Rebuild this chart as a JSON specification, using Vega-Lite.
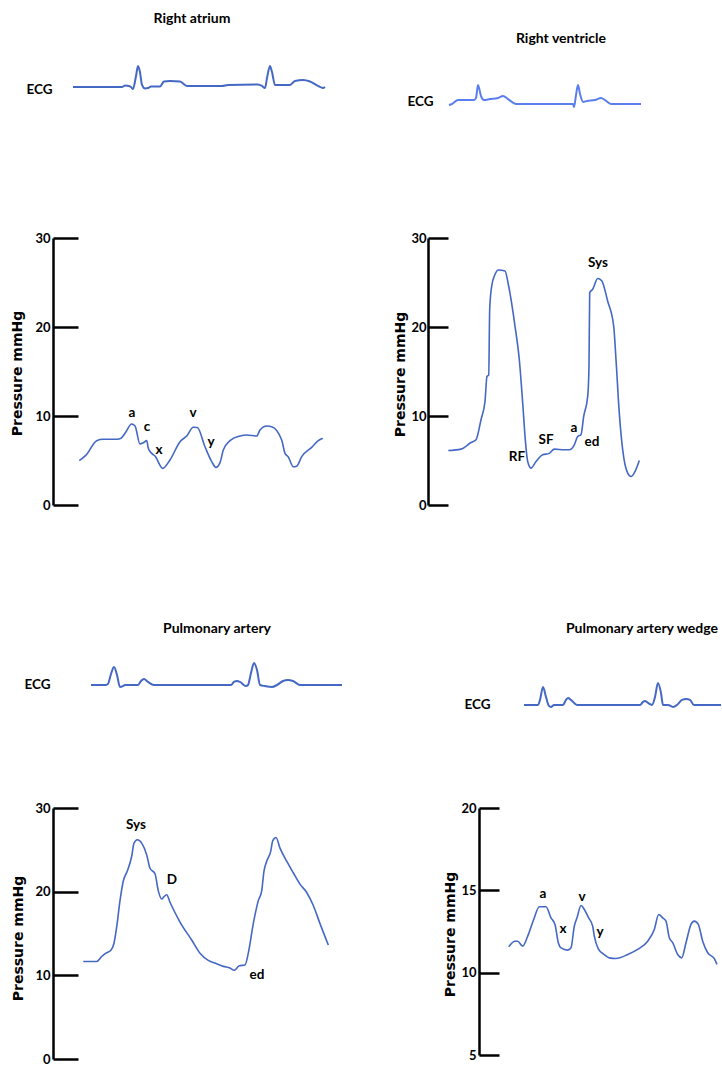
{
"$schema":"https://vega.github.io/schema/vega-lite/v6.json",
"background":"white",
"padding":{"left":10,"top":12,"right":0,"bottom":0},
"config":{"view":{"stroke":null},"font":"Lato","axis":{"grid":false},
 "title":{"font":"Lato","fontSize":14,"fontWeight":"bold","color":"black","anchor":"middle","frame":"group","baseline":"bottom"},
 "line":{"color":"#4468c4"},
 "text":{"font":"Lato","fontWeight":"bold","fontSize":13.5,"align":"center","baseline":"middle","color":"black"}},
"datasets":{
"ra_ecg":[{"t":0.20,"v":0},{"t":0.69,"v":0},{"t":0.72,"v":0.07},{"t":0.76,"v":0.05},{"t":0.78,"v":0},{"t":0.80,"v":-0.1},{"t":0.83,"v":0.52},{"t":0.85,"v":1.0},{"t":0.87,"v":0.71},{"t":0.89,"v":0.1},{"t":0.92,"v":-0.07},{"t":0.95,"v":-0.05},{"t":0.98,"v":0.02},{"t":1.07,"v":0.02},{"t":1.11,"v":0.26},{"t":1.17,"v":0.29},{"t":1.27,"v":0.26},{"t":1.34,"v":0.05},{"t":1.69,"v":0.05},{"t":1.75,"v":0.1},{"t":2.05,"v":0.12},{"t":2.09,"v":0.05},{"t":2.12,"v":-0.05},{"t":2.14,"v":0.43},{"t":2.17,"v":1.0},{"t":2.19,"v":0.71},{"t":2.22,"v":0.1},{"t":2.37,"v":0.1},{"t":2.42,"v":0.29},{"t":2.50,"v":0.33},{"t":2.57,"v":0.26},{"t":2.65,"v":0.05},{"t":2.70,"v":-0.05},{"t":2.72,"v":0}],
"ra_p":[{"t":0.263,"v":4.98},{"t":0.33,"v":5.6},{"t":0.437,"v":7.23},{"t":0.50,"v":7.38},{"t":0.64,"v":7.38},{"t":0.68,"v":7.5},{"t":0.72,"v":8.05},{"t":0.787,"v":9.1},{"t":0.82,"v":8.88},{"t":0.87,"v":6.86},{"t":0.903,"v":7.0},{"t":0.937,"v":7.23},{"t":0.953,"v":6.37},{"t":0.987,"v":5.8},{"t":1.02,"v":5.5},{"t":1.097,"v":4.12},{"t":1.17,"v":5.06},{"t":1.27,"v":7.12},{"t":1.337,"v":7.75},{"t":1.403,"v":8.73},{"t":1.443,"v":8.7},{"t":1.52,"v":6.55},{"t":1.587,"v":4.87},{"t":1.63,"v":4.23},{"t":1.67,"v":4.76},{"t":1.703,"v":6.18},{"t":1.77,"v":7.23},{"t":1.87,"v":7.75},{"t":1.937,"v":7.87},{"t":2.037,"v":7.75},{"t":2.07,"v":8.43},{"t":2.137,"v":8.88},{"t":2.187,"v":8.8},{"t":2.287,"v":7.3},{"t":2.32,"v":5.8},{"t":2.353,"v":5.4},{"t":2.403,"v":4.3},{"t":2.437,"v":4.36},{"t":2.487,"v":5.43},{"t":2.587,"v":6.48},{"t":2.653,"v":7.23},{"t":2.697,"v":7.5}],
"ra_lab":[{"t":0.79,"v":10.34,"label":"a"},{"t":0.94,"v":8.76,"label":"c"},{"t":1.06,"v":6.18,"label":"x"},{"t":1.40,"v":10.34,"label":"v"},{"t":1.58,"v":7.08,"label":"y"}],
"rv_ecg":[{"t":0.21,"v":-0.05},{"t":0.24,"v":0},{"t":0.30,"v":0.21},{"t":0.46,"v":0.21},{"t":0.48,"v":0.32},{"t":0.50,"v":1.0},{"t":0.53,"v":0.42},{"t":0.56,"v":0.21},{"t":0.62,"v":0.26},{"t":0.70,"v":0.32},{"t":0.75,"v":0.42},{"t":0.80,"v":0.26},{"t":0.88,"v":0},{"t":1.45,"v":0},{"t":1.46,"v":-0.16},{"t":1.48,"v":0.47},{"t":1.50,"v":1.0},{"t":1.52,"v":0.53},{"t":1.55,"v":0.11},{"t":1.59,"v":0.16},{"t":1.67,"v":0.21},{"t":1.73,"v":0.32},{"t":1.77,"v":0.21},{"t":1.83,"v":0},{"t":2.13,"v":0}],
"rv_p":[{"t":0.203,"v":6.12},{"t":0.33,"v":6.28},{"t":0.43,"v":7.02},{"t":0.48,"v":7.33},{"t":0.53,"v":9.58},{"t":0.57,"v":11.65},{"t":0.59,"v":14.46},{"t":0.607,"v":14.6},{"t":0.617,"v":21.98},{"t":0.637,"v":24.6},{"t":0.67,"v":25.9},{"t":0.703,"v":26.4},{"t":0.77,"v":26.3},{"t":0.803,"v":24.8},{"t":0.87,"v":20.1},{"t":0.913,"v":16.35},{"t":0.947,"v":11.46},{"t":0.973,"v":7.33},{"t":0.997,"v":4.88},{"t":1.03,"v":4.14},{"t":1.08,"v":4.88},{"t":1.147,"v":5.64},{"t":1.213,"v":5.8},{"t":1.263,"v":6.28},{"t":1.363,"v":6.2},{"t":1.413,"v":6.2},{"t":1.463,"v":6.76},{"t":1.497,"v":7.7},{"t":1.53,"v":7.9},{"t":1.557,"v":9.96},{"t":1.597,"v":12.2},{"t":1.61,"v":15.6},{"t":1.617,"v":23.87},{"t":1.647,"v":24.24},{"t":1.697,"v":25.45},{"t":1.737,"v":25.2},{"t":1.797,"v":22.9},{"t":1.857,"v":20.1},{"t":1.88,"v":16.35},{"t":1.913,"v":10.3},{"t":1.947,"v":6.2},{"t":1.997,"v":3.57},{"t":2.03,"v":3.2},{"t":2.07,"v":3.76},{"t":2.113,"v":5.0}],
"rv_lab":[{"t":0.89,"v":5.39,"label":"RF"},{"t":1.18,"v":7.30,"label":"SF"},{"t":1.46,"v":8.65,"label":"a"},{"t":1.64,"v":7.08,"label":"ed"},{"t":1.70,"v":27.19,"label":"Sys"}],
"pa_ecg":[{"t":0.38,"v":0},{"t":0.53,"v":0},{"t":0.55,"v":0.06},{"t":0.58,"v":0.61},{"t":0.61,"v":1.0},{"t":0.64,"v":0.56},{"t":0.67,"v":-0.11},{"t":0.70,"v":-0.06},{"t":0.72,"v":0},{"t":0.85,"v":0},{"t":0.88,"v":0.22},{"t":0.91,"v":0.33},{"t":0.95,"v":0.17},{"t":1.01,"v":0},{"t":1.78,"v":0},{"t":1.81,"v":0.17},{"t":1.84,"v":0.22},{"t":1.87,"v":0.17},{"t":1.93,"v":-0.06},{"t":1.95,"v":0},{"t":1.98,"v":0.67},{"t":2.01,"v":1.22},{"t":2.04,"v":0.83},{"t":2.07,"v":0},{"t":2.12,"v":-0.06},{"t":2.19,"v":-0.11},{"t":2.24,"v":0},{"t":2.30,"v":0.22},{"t":2.35,"v":0.28},{"t":2.40,"v":0.22},{"t":2.47,"v":0},{"t":2.89,"v":0}],
"pa_p":[{"t":0.303,"v":11.66},{"t":0.437,"v":11.66},{"t":0.487,"v":12.25},{"t":0.53,"v":12.65},{"t":0.577,"v":12.96},{"t":0.61,"v":13.83},{"t":0.637,"v":15.78},{"t":0.67,"v":18.93},{"t":0.703,"v":21.28},{"t":0.743,"v":22.46},{"t":0.787,"v":24.23},{"t":0.81,"v":25.8},{"t":0.843,"v":26.2},{"t":0.887,"v":25.8},{"t":0.937,"v":24.4},{"t":0.97,"v":22.8},{"t":1.02,"v":22.14},{"t":1.053,"v":20.1},{"t":1.087,"v":19.13},{"t":1.11,"v":19.4},{"t":1.137,"v":19.64},{"t":1.17,"v":18.73},{"t":1.27,"v":16.37},{"t":1.387,"v":14.22},{"t":1.47,"v":12.65},{"t":1.553,"v":11.78},{"t":1.637,"v":11.39},{"t":1.703,"v":11.07},{"t":1.77,"v":10.88},{"t":1.813,"v":10.6},{"t":1.863,"v":11.15},{"t":1.92,"v":11.24},{"t":1.953,"v":12.65},{"t":2.003,"v":16.18},{"t":2.053,"v":18.93},{"t":2.087,"v":20.1},{"t":2.11,"v":22.46},{"t":2.137,"v":23.64},{"t":2.177,"v":24.82},{"t":2.197,"v":26.08},{"t":2.23,"v":26.47},{"t":2.27,"v":25.2},{"t":2.337,"v":23.64},{"t":2.403,"v":22.26},{"t":2.47,"v":20.9},{"t":2.537,"v":19.9},{"t":2.603,"v":18.34},{"t":2.67,"v":16.18},{"t":2.753,"v":13.63}],
"pa_lab":[{"t":0.83,"v":28.0,"label":"Sys"},{"t":1.19,"v":21.4,"label":"D"},{"t":2.04,"v":10.0,"label":"ed"}],
"paw_ecg":[{"t":0.45,"v":0},{"t":0.59,"v":0},{"t":0.61,"v":0.28},{"t":0.64,"v":1.0},{"t":0.67,"v":0.44},{"t":0.70,"v":-0.06},{"t":0.72,"v":-0.11},{"t":0.75,"v":0},{"t":0.84,"v":0},{"t":0.87,"v":0.28},{"t":0.89,"v":0.39},{"t":0.92,"v":0.28},{"t":0.98,"v":0},{"t":1.61,"v":0},{"t":1.64,"v":0.17},{"t":1.66,"v":0.22},{"t":1.69,"v":0.11},{"t":1.73,"v":0},{"t":1.76,"v":0.44},{"t":1.79,"v":1.22},{"t":1.82,"v":0.67},{"t":1.84,"v":0},{"t":1.89,"v":0},{"t":1.94,"v":-0.11},{"t":1.98,"v":0},{"t":2.03,"v":0.28},{"t":2.07,"v":0.33},{"t":2.11,"v":0.28},{"t":2.15,"v":0},{"t":2.42,"v":0}],
"paw_p":[{"t":0.297,"v":11.57},{"t":0.36,"v":11.91},{"t":0.387,"v":11.91},{"t":0.437,"v":11.61},{"t":0.487,"v":12.22},{"t":0.547,"v":13.23},{"t":0.603,"v":14.0},{"t":0.67,"v":14.0},{"t":0.72,"v":13.33},{"t":0.76,"v":12.93},{"t":0.793,"v":11.82},{"t":0.82,"v":11.51},{"t":0.887,"v":11.37},{"t":0.92,"v":11.51},{"t":0.953,"v":12.82},{"t":0.98,"v":13.33},{"t":1.02,"v":14.08},{"t":1.053,"v":13.84},{"t":1.097,"v":13.33},{"t":1.137,"v":12.82},{"t":1.153,"v":12.22},{"t":1.193,"v":11.45},{"t":1.253,"v":11.1},{"t":1.303,"v":10.9},{"t":1.37,"v":10.86},{"t":1.487,"v":11.1},{"t":1.587,"v":11.41},{"t":1.687,"v":11.91},{"t":1.753,"v":12.62},{"t":1.797,"v":13.53},{"t":1.837,"v":13.33},{"t":1.87,"v":13.13},{"t":1.903,"v":12.12},{"t":1.937,"v":11.82},{"t":1.987,"v":11.1},{"t":2.027,"v":10.9},{"t":2.07,"v":11.82},{"t":2.12,"v":12.93},{"t":2.153,"v":13.13},{"t":2.193,"v":12.93},{"t":2.237,"v":11.91},{"t":2.287,"v":11.21},{"t":2.353,"v":10.85},{"t":2.38,"v":10.5}],
"paw_lab":[{"t":0.64,"v":14.78,"label":"a"},{"t":0.84,"v":12.65,"label":"x"},{"t":1.03,"v":14.6,"label":"v"},{"t":1.21,"v":12.47,"label":"y"}]
},
"bounds":"flush",
"align":"none",
"columns":2,
"spacing":{"row":145,"column":40},
"concat":[
  {"width":335,"height":33,"title":{"text":"Right atrium","offset":34,"dx":-28.5},
   "data":{"name":"ra_ecg"},"mark":{"type":"line","strokeWidth":2,"interpolate":"monotone"},
   "encoding":{"x":{"field":"t","type":"quantitative","scale":{"domain":[0,3.35],"nice":false,"zero":false},"axis":null},
    "y":{"field":"v","type":"quantitative","scale":{"domain":[-0.286,1.286],"nice":false,"zero":false},
     "axis":{"title":"ECG","labels":false,"ticks":false,"domain":false,"titleAngle":0,"titleX":-1,"titleY":29,"titleAlign":"right","titleBaseline":"middle","titleFont":"Lato","titleFontSize":13.5,"titleFontWeight":"bold","titleColor":"black"}}}},
  {"width":220,"height":33,"title":{"text":"Right ventricle","offset":14,"dx":-28},
   "data":{"name":"rv_ecg"},"mark":{"type":"line","strokeWidth":2,"interpolate":"monotone","color":"#5a7ef0"},
   "encoding":{"x":{"field":"t","type":"quantitative","scale":{"domain":[0.51,2.71],"nice":false,"zero":false},"axis":null},
    "y":{"field":"v","type":"quantitative","scale":{"domain":[0.579,2.316],"nice":false,"zero":false},
     "axis":{"title":"ECG","labels":false,"ticks":false,"domain":false,"titleAngle":0,"titleX":-46,"titleY":41,"titleAlign":"right","titleBaseline":"middle","titleFont":"Lato","titleFontSize":13.5,"titleFontWeight":"bold","titleColor":"black"}}}},
  {"width":335,"height":267,
   "layer":[
    {"data":{"name":"ra_p"},"mark":{"type":"line","strokeWidth":1.6,"interpolate":"monotone"},
     "encoding":{"x":{"field":"t","type":"quantitative","scale":{"domain":[0,3.35],"nice":false,"zero":false},"axis":null},
      "y":{"field":"v","type":"quantitative","scale":{"domain":[0,30],"nice":false,"zero":false},
       "axis":{"values":[0,10,20,30],"domainColor":"black","domainWidth":2.5,"tickColor":"black","tickWidth":2.5,"tickSize":-25,"labelFont":"Lato","labelFontWeight":"bold","labelFontSize":13,"labelColor":"black","labelPadding":28,"title":"Pressure mmHg","titleFont":"DejaVu Sans","titleFontSize":14,"titleFontWeight":"bold","titleColor":"black","titleX":-35.5,"titleY":135,"titleAlign":"center","titleBaseline":"middle"}}}},
    {"data":{"name":"ra_lab"},"mark":{"type":"text"},
     "encoding":{"x":{"field":"t","type":"quantitative"},"y":{"field":"v","type":"quantitative"},"text":{"field":"label"}}}
   ]},
  {"width":220,"height":267,
   "layer":[
    {"data":{"name":"rv_p"},"mark":{"type":"line","strokeWidth":1.6,"interpolate":"monotone"},
     "encoding":{"x":{"field":"t","type":"quantitative","scale":{"domain":[0.51,2.71],"nice":false,"zero":false},"axis":null},
      "y":{"field":"v","type":"quantitative","scale":{"domain":[0,30],"nice":false,"zero":false},
       "axis":{"offset":51,"values":[0,10,20,30],"domainColor":"black","domainWidth":2.5,"tickColor":"black","tickWidth":2.5,"tickSize":-20,"labelFont":"Lato","labelFontWeight":"bold","labelFontSize":13,"labelColor":"black","labelPadding":22,"title":"Pressure mmHg","titleFont":"DejaVu Sans","titleFontSize":14,"titleFontWeight":"bold","titleColor":"black","titleX":-28,"titleY":136,"titleAlign":"center","titleBaseline":"middle"}}}},
    {"data":{"name":"rv_lab"},"mark":{"type":"text"},
     "encoding":{"x":{"field":"t","type":"quantitative"},"y":{"field":"v","type":"quantitative"},"text":{"field":"label"}}}
   ]},
  {"width":386,"height":11,"title":{"text":"Pulmonary artery","offset":14,"dx":-29},
   "data":{"name":"pa_ecg"},"mark":{"type":"line","strokeWidth":2,"interpolate":"monotone"},
   "encoding":{"x":{"field":"t","type":"quantitative","scale":{"domain":[0,3.86],"nice":false,"zero":false},"axis":null},
    "y":{"field":"v","type":"quantitative","scale":{"domain":[1.333,1.944],"nice":false,"zero":false},
     "axis":{"title":"ECG","labels":false,"ticks":false,"domain":false,"titleAngle":0,"titleX":-3,"titleY":34,"titleAlign":"right","titleBaseline":"middle","titleFont":"Lato","titleFontSize":13.5,"titleFontWeight":"bold","titleColor":"black"}}}},
  {"width":243,"height":13,"title":{"text":"Pulmonary artery wedge","offset":14,"dx":41.5},
   "data":{"name":"paw_ecg"},"mark":{"type":"line","strokeWidth":2,"interpolate":"monotone"},
   "encoding":{"x":{"field":"t","type":"quantitative","scale":{"domain":[0,2.43],"nice":false,"zero":false},"axis":null},
    "y":{"field":"v","type":"quantitative","scale":{"domain":[2.333,3.056],"nice":false,"zero":false},
     "axis":{"title":"ECG","labels":false,"ticks":false,"domain":false,"titleAngle":0,"titleX":11,"titleY":54,"titleAlign":"right","titleBaseline":"middle","titleFont":"Lato","titleFontSize":13.5,"titleFontWeight":"bold","titleColor":"black"}}}},
  {"width":386,"height":251,
   "layer":[
    {"data":{"name":"pa_p"},"mark":{"type":"line","strokeWidth":1.6,"interpolate":"monotone"},
     "encoding":{"x":{"field":"t","type":"quantitative","scale":{"domain":[0,3.86],"nice":false,"zero":false},"axis":null},
      "y":{"field":"v","type":"quantitative","scale":{"domain":[0,30],"nice":false,"zero":false},
       "axis":{"values":[0,10,20,30],"domainColor":"black","domainWidth":2.5,"tickColor":"black","tickWidth":2.5,"tickSize":-25,"labelFont":"Lato","labelFontWeight":"bold","labelFontSize":13,"labelColor":"black","labelPadding":28,"title":"Pressure mmHg","titleFont":"DejaVu Sans","titleFontSize":14,"titleFontWeight":"bold","titleColor":"black","titleX":-35,"titleY":130,"titleAlign":"center","titleBaseline":"middle"}}}},
    {"data":{"name":"pa_lab"},"mark":{"type":"text"},
     "encoding":{"x":{"field":"t","type":"quantitative"},"y":{"field":"v","type":"quantitative"},"text":{"field":"label"}}}
   ]},
  {"width":243,"height":247,
   "layer":[
    {"data":{"name":"paw_p"},"mark":{"type":"line","strokeWidth":1.6,"interpolate":"monotone"},
     "encoding":{"x":{"field":"t","type":"quantitative","scale":{"domain":[0,2.43],"nice":false,"zero":false},"axis":null},
      "y":{"field":"v","type":"quantitative","scale":{"domain":[5,20],"nice":false,"zero":false},
       "axis":{"values":[5,10,15,20],"domainColor":"black","domainWidth":2.5,"tickColor":"black","tickWidth":2.5,"tickSize":-20,"labelFont":"Lato","labelFontWeight":"bold","labelFontSize":13,"labelColor":"black","labelPadding":23,"title":"Pressure mmHg","titleFont":"DejaVu Sans","titleFontSize":14,"titleFontWeight":"bold","titleColor":"black","titleX":-29,"titleY":126,"titleAlign":"center","titleBaseline":"middle"}}}},
    {"data":{"name":"paw_lab"},"mark":{"type":"text"},
     "encoding":{"x":{"field":"t","type":"quantitative"},"y":{"field":"v","type":"quantitative"},"text":{"field":"label"}}}
   ]}
]
}
